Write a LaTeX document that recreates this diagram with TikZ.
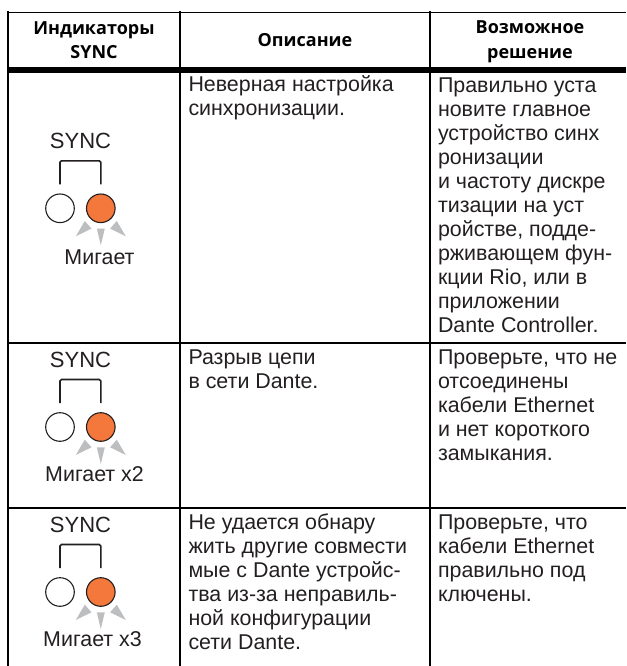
\documentclass[tikz,border=0pt]{standalone}
\usepackage{fontspec}
\setmainfont{Liberation Sans}
\newfontfamily\headfont{Open Sans}[BoldFont={Open Sans Bold}]
\newcommand{\firstline}{\rule{0pt}{18pt}}
\newcommand{\syncblock}[5]{%
  % #1 name prefix, #2 circle centre y, #3 label x, #4 label y, #5 label
  \node[ledoff] (#1off) at (60,#2) {};
  \node[ledon] (#1on) at (100.8,#2) {};
  \node[synclabel,font=\fontsize{22}{24}\selectfont] (#1sync) at (80.5,#2-59.5) {SYNC};
  \coordinate (#1a) at (60,#2-24);
  \coordinate (#1b) at (100.8,#2-24);
  \draw[bracket] (#1a) -- ++(0,-23.5) -- ++(40.8,0) -- (#1b);
  \begin{scope}[shift={(#1on.center)}]
    \fill[ray] (-16,12.7) -- (-9.3,20.3) -- (-25,28) -- cycle;
    \fill[ray] (16,12.7) -- (9.3,20.3) -- (25,28) -- cycle;
    \fill[ray] (-4,20.3) -- (4,20.3) -- (0,37) -- cycle;
  \end{scope}
  \node[synclabel] (#1lab) at (#3,#4) {#5};
}
\definecolor{inkc}{HTML}{231F20}
\definecolor{ledc}{HTML}{F4773B}
\definecolor{rayc}{HTML}{BCBEC0}
\tikzset{
  x=1pt,y=-1pt,
  rulethin/.style={line width=1.9pt,black},
  rulethick/.style={line width=5.2pt,black},
  cell/.style={anchor=north west,inner sep=0pt,outer sep=0pt,align=left,text=inkc,font=\fontsize{21.4}{24}\selectfont},
  head/.style={anchor=base,inner sep=0pt,outer sep=0pt,align=center,text=black,font=\headfont\bfseries\fontsize{18}{24.5}\selectfont},
  synclabel/.style={anchor=base,inner sep=0pt,outer sep=0pt,text=inkc,font=\fontsize{21.4}{24}\selectfont},
  ledoff/.style={circle,draw=inkc,line width=1.1pt,fill=white,minimum size=28.6pt,inner sep=0pt},
  ledon/.style={ledoff,fill=ledc},
  bracket/.style={draw=inkc,line width=1.6pt,rounded corners=1.5pt},
  ray/.style={fill=rayc},
}
\begin{document}
\begin{tikzpicture}
\useasboundingbox (0,0) rectangle (626,666);
% rules
\draw[rulethin] (7,12.5) -- (626,12.5);
\draw[rulethick] (7,70) -- (626,70);
\draw[rulethin] (7,343) -- (626,343);
\draw[rulethin] (7,507.7) -- (626,507.7);
\draw[rulethin] (8,11.5) -- (8,666);
\draw[rulethin] (180,11.5) -- (180,666);
\draw[rulethin] (430,11.5) -- (430,666);
% header
\node[head] (h1a) at (94,35) {Индикаторы};
\node[head] (h1b) at (94,59) {SYNC};
\node[head] (h2) at (305,46.7) {Описание};
\node[head] (h3a) at (530,34) {Возможное};
\node[head] (h3b) at (530,59) {решение};
% cells
\node[cell] (d1) at (188.5,92-18) {\firstline Неверная настройка\\синхронизации.};
\node[cell] (s1) at (438,92-18) {\firstline Правильно уста\\новите главное\\устройство синх\\ронизации\\и частоту дискре\\тизации на уст\\ройстве, подде-\\рживающем фун-\\кции Rio, или в\\приложении\\Dante Controller.};
\node[cell] (d2) at (188.5,364-18) {\firstline Разрыв цепи\\в сети Dante.};
\node[cell] (s2) at (438,364-18) {\firstline Проверьте, что не\\отсоединены\\кабели Ethernet\\и нет короткого\\замыкания.};
\node[cell] (d3) at (188.5,529-18) {\firstline Не удается обнару\\жить другие совмести\\мые с Dante устройс-\\тва из-за неправиль-\\ной конфигурации\\сети Dante.};
\node[cell] (s3) at (438,529-18) {\firstline Проверьте, что\\кабели Ethernet\\правильно под\\ключены.};
% indicators
\syncblock{a}{208.3}{99.5}{264}{Мигает}
\syncblock{b}{427}{94.5}{481.7}{Мигает x2}
\syncblock{c}{592}{92.5}{646.7}{Мигает x3}
\end{tikzpicture}
\end{document}
